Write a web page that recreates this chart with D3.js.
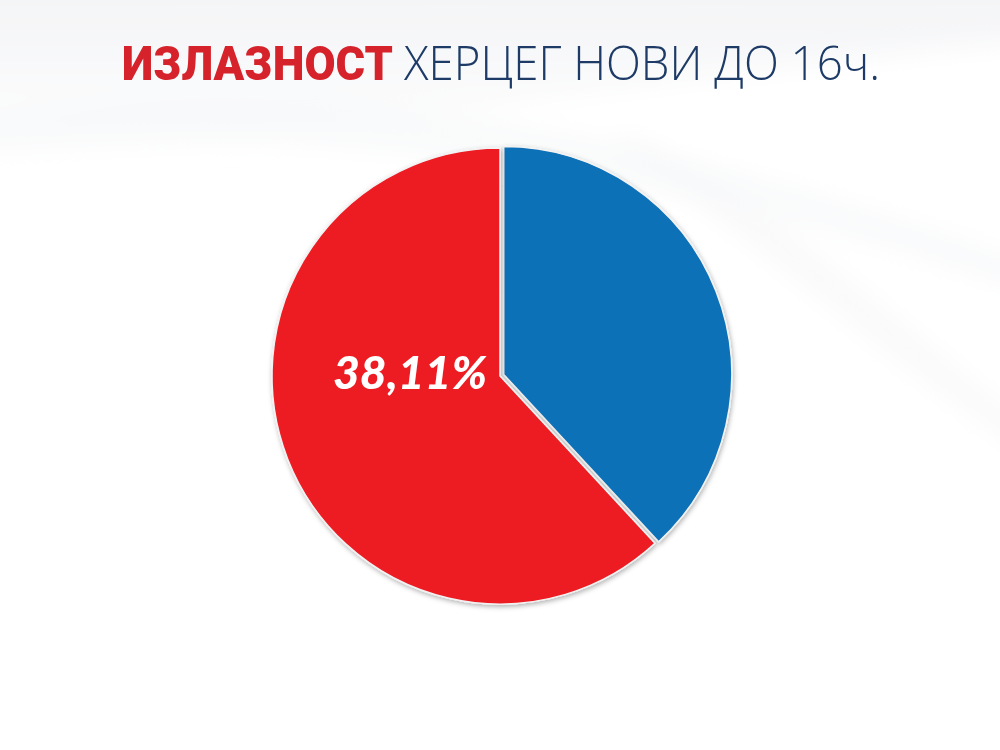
<!DOCTYPE html>
<html><head><meta charset="utf-8">
<script src="https://cdn.jsdelivr.net/npm/d3@7/dist/d3.min.js"></script>
<style>html,body{margin:0;padding:0;background:#fff;}svg{display:block;}</style>
</head><body>
<svg id="c" width="1000" height="750"></svg>
<script>
const categories = ["Гласали", "Нису гласали"];
const values = [38.11, 61.89];
const colors = ["#1071b8", "#ed1c24"];
const labelText = "38,11%";
const titleBold = "ИЗЛАЗНОСТ";
const titleRest = "ХЕРЦЕГ НОВИ ДО 16ч.";

const svg = d3.select("#c");
const defs = svg.append("defs");
const g1 = defs.append("linearGradient").attr("id","bg").attr("x1","0").attr("y1","0").attr("x2","0").attr("y2","1");
g1.append("stop").attr("offset","0").attr("stop-color","#f1f2f4");
g1.append("stop").attr("offset","1").attr("stop-color","#ffffff");
const f = defs.append("filter").attr("id","sh").attr("x","-10%").attr("y","-10%").attr("width","120%").attr("height","120%");
f.append("feDropShadow").attr("dx",1).attr("dy",2).attr("stdDeviation",2.5).attr("flood-color","#000").attr("flood-opacity",0.3);
const bl = defs.append("filter").attr("id","blur");
bl.append("feGaussianBlur").attr("stdDeviation",12);

svg.append("rect").attr("width",1000).attr("height",750).attr("fill","#fff");
// faint background swooshes
const bgG = svg.append("g").attr("filter","url(#blur)");
bgG.append("path").attr("d","M-50,-50 L1050,-50 L1050,40 C800,60 500,110 -50,170 Z").attr("fill","url(#bg)");
bgG.append("path").attr("d","M-50,120 C300,70 600,110 1050,270 L1050,300 C650,160 300,120 -50,150 Z").attr("fill","#f5f6f8").attr("opacity",0.6);
bgG.append("path").attr("d","M620,130 C790,210 900,330 1050,440 L1050,470 C880,360 760,240 620,150 Z").attr("fill","#f5f6f8").attr("opacity",0.5);

// title
svg.append("text").attr("x",122).attr("y",80).attr("textLength",271).attr("lengthAdjust","spacingAndGlyphs")
  .attr("font-family","Roboto, 'Open Sans', sans-serif").attr("font-weight",900).attr("font-size",48)
  .attr("fill","#d6232b").text(titleBold);
svg.append("text").attr("x",404).attr("y",80).attr("textLength",476).attr("lengthAdjust","spacingAndGlyphs")
  .attr("font-family","'Open Sans', Lato, sans-serif").attr("font-weight",300).attr("font-size",48)
  .attr("fill","#1d3b66").text(titleRest);

// pie
const cx = 500, cy = 376, r = 228;
const pie = d3.pie().sort(null).value(d => d)(values);
const arc = d3.arc().innerRadius(0).outerRadius(r);
const gp = svg.append("g").attr("transform",`translate(${cx},${cy})`);
gp.selectAll("path").data(pie).join("path")
  .attr("transform",(d,i) => {
    if (i !== 0) return null;
    const a = (d.startAngle + d.endAngle)/2, off = 4;
    return `translate(${off*Math.sin(a)},${-off*Math.cos(a)})`;
  })
  .attr("d",arc).attr("fill",(d,i)=>colors[i])
  .attr("stroke","#f2f2f2").attr("stroke-width",1.5)
  .attr("filter","url(#sh)");

gp.append("text").attr("x",-90).attr("y",13).attr("text-anchor","middle")
  .attr("textLength",154).attr("lengthAdjust","spacingAndGlyphs")
  .attr("font-family","Lato, 'Open Sans', sans-serif").attr("font-weight",900).attr("font-style","italic")
  .attr("font-size",46).attr("fill","#fff").text(labelText);
</script>
</body></html>
